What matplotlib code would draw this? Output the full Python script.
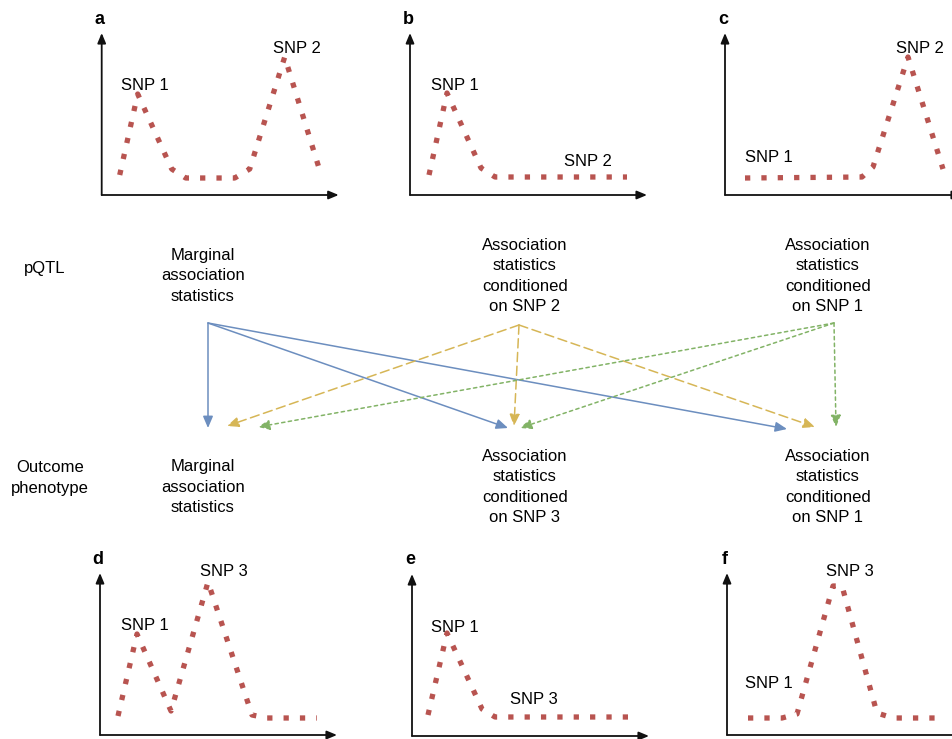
import matplotlib.pyplot as plt

plt.rcParams['font.family'] = ['Liberation Sans', 'DejaVu Sans']

# curves of the six panels (x right of the y-axis, y above the x-axis, in px)
a_x = [18, 36, 70, 84, 133, 148, 183, 217]
a_y = [20, 101, 26, 17, 17, 26, 138, 28]
b_x = [19, 37, 71, 85, 217]
b_y = [20, 102, 27, 18, 18]
c_x = [20, 137, 148, 183, 218]
c_y = [17, 18, 28, 138, 26]
d_x = [18, 37, 71, 108, 152, 167, 217]
d_y = [19, 101, 24, 153, 20, 17, 17]
e_x = [16, 35, 70, 83, 216]
e_y = [21, 103, 27, 19, 19]
f_x = [21, 55, 70, 106, 115, 150, 166, 216]
f_y = [17, 17, 21, 149, 149, 22, 17, 17]

panel_letters = ['a', 'b', 'c', 'd', 'e', 'f']
panel_curves = [(a_x, a_y), (b_x, b_y), (c_x, c_y), (d_x, d_y), (e_x, e_y), (f_x, f_y)]
panel_labels = [
    [('SNP 1', 43, 110), ('SNP 2', 195, 147)],
    [('SNP 1', 45, 110), ('SNP 2', 178, 34)],
    [('SNP 1', 44, 38), ('SNP 2', 195, 147)],
    [('SNP 1', 45, 110), ('SNP 3', 124, 164)],
    [('SNP 1', 43, 109), ('SNP 3', 122, 36)],
    [('SNP 1', 42, 52), ('SNP 3', 123, 163)],
]
# pixel position of each panel's origin
panel_origin = [(101.7, 195), (410, 195), (725, 195), (100, 735), (412, 736), (727, 735)]

# middle diagram
top_labels = ['Marginal\nassociation\nstatistics',
              'Association\nstatistics\nconditioned\non SNP 2',
              'Association\nstatistics\nconditioned\non SNP 1']
bottom_labels = ['Marginal\nassociation\nstatistics',
                 'Association\nstatistics\nconditioned\non SNP 3',
                 'Association\nstatistics\nconditioned\non SNP 1']
label_x = [203, 525, 828]

blue_src = (208, 323)
blue_dst = [(208, 428), (508, 428), (787, 429)]
yellow_src = (519, 325)
yellow_dst = [(227, 426), (514, 426), (815, 427)]
green_src = (834, 323)
green_dst = [(258, 427), (520, 428), (836, 427)]

W, H = 953, 739
PW, PH = 237, 162
red = '#b85450'

fig = plt.figure(figsize=(W / 100, H / 100), dpi=100)
main = fig.add_axes([0, 0, 1, 1])
main.set_xlim(0, W)
main.set_ylim(H, 0)
main.axis('off')

for letter, (cx, cy), labs, (ox, oy) in zip(panel_letters, panel_curves, panel_labels, panel_origin):
    ax = fig.add_axes([ox / W, (H - oy) / H, PW / W, PH / H])
    ax.set_xlim(0, PW)
    ax.set_ylim(0, PH)
    ax.axis('off')
    ax.plot(cx, cy, color=red, lw=3.8, linestyle=(0, (1, 2.1)), solid_joinstyle='miter')
    ax.annotate('', xy=(0, PH), xytext=(0, 0), annotation_clip=False,
                arrowprops=dict(arrowstyle='-|>,head_length=0.6,head_width=0.25',
                                color='#111111', lw=1.3, shrinkA=0, shrinkB=0))
    ax.annotate('', xy=(PW, 0), xytext=(0, 0), annotation_clip=False,
                arrowprops=dict(arrowstyle='-|>,head_length=0.6,head_width=0.25',
                                color='#111111', lw=1.3, shrinkA=0, shrinkB=0))
    for txt, tx, ty in labs:
        ax.text(tx, ty, txt, fontsize=12, ha='center', va='center', clip_on=False)
    ax.text(-2, 176, letter, fontsize=13, fontweight='bold', ha='center', va='center',
            clip_on=False)

main.text(45, 269, 'pQTL', fontsize=12, ha='center', va='center')
main.text(50, 478, 'Outcome\nphenotype', fontsize=12, ha='center', va='center',
          linespacing=1.47)
for x, t in zip(label_x, top_labels):
    main.text(x, 276, t, fontsize=12, ha='center', va='center', linespacing=1.47)
for x, t in zip(label_x, bottom_labels):
    main.text(x, 487, t, fontsize=12, ha='center', va='center', linespacing=1.47)

arrow_sets = [(blue_src, blue_dst, '#6c8ebf', '-'),
              (yellow_src, yellow_dst, '#d6b656', (0, (6, 3))),
              (green_src, green_dst, '#82b366', (0, (2.2, 2.2)))]
for src, dsts, col, ls in arrow_sets:
    for dst in dsts:
        main.annotate('', xy=dst, xytext=src,
                      arrowprops=dict(arrowstyle='-|>,head_length=0.7,head_width=0.3',
                                      color=col, lw=1.1, linestyle=ls,
                                      shrinkA=0, shrinkB=0, mutation_scale=10))

fig.savefig('out.png', dpi=100)
